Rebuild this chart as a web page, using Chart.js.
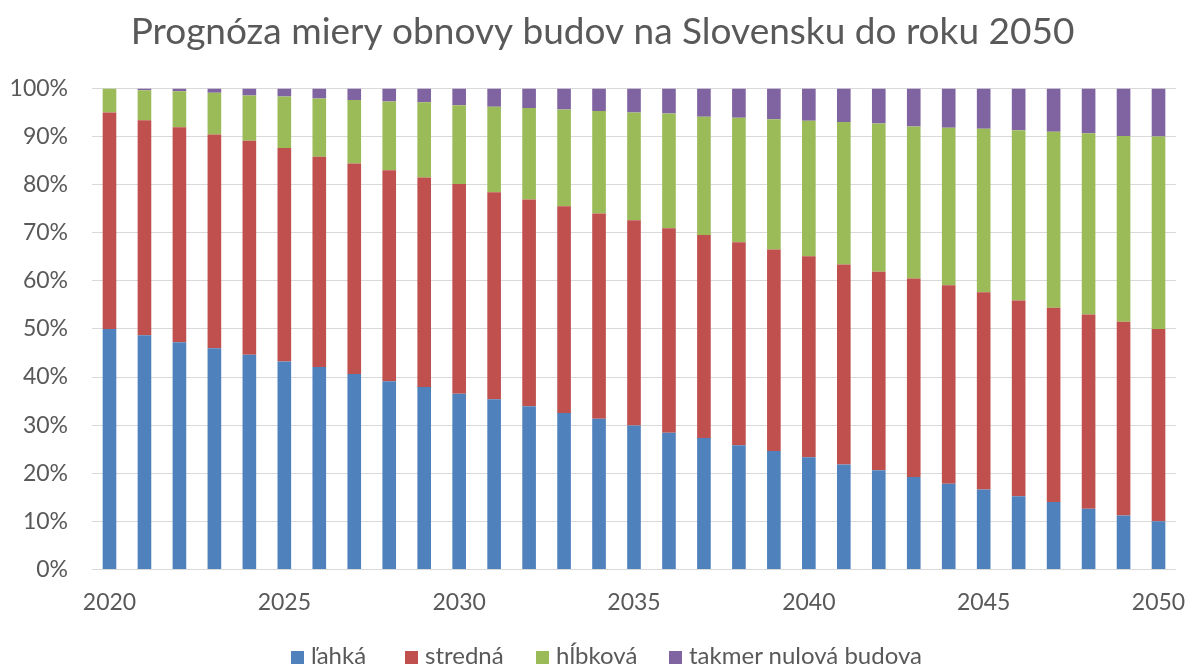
<!DOCTYPE html>
<html>
<head>
<meta charset="utf-8">
<script src="https://cdn.jsdelivr.net/npm/chart.js@4.4.1/dist/chart.umd.min.js"></script>
<style>
  html, body { margin: 0; padding: 0; background: #fff; }
  #wrap { position: relative; width: 1189px; height: 665px; overflow: hidden; }
  #c { display: block; }
  #legend { position: absolute; left: 0; top: 0; width: 1189px; height: 665px; pointer-events: none; }
  .item { position: absolute; top: 641px; display: flex; align-items: center; font-family: Lato, sans-serif; font-size: 24px; color: #595959; line-height: 28px; white-space: nowrap; }
  .sw { width: 13px; height: 13px; margin-right: 7px; position: relative; top: 2px; }
</style>
</head>
<body>
<div id="wrap">
  <canvas id="c" width="1189" height="665"></canvas>
  <div id="legend"></div>
</div>
<script>
const title = "Prognóza miery obnovy budov na Slovensku do roku 2050";
const years = ["2020","2021","2022","2023","2024","2025","2026","2027","2028","2029","2030",
  "2031","2032","2033","2034","2035","2036","2037","2038","2039","2040",
  "2041","2042","2043","2044","2045","2046","2047","2048","2049","2050"];
const seriesNames = ["ľahká", "stredná", "hĺbková", "takmer nulová budova"];
const lahka = [50.0,48.7,47.2,46.0,44.6,43.2,42.1,40.6,39.1,37.9,36.5,
  35.4,33.9,32.5,31.3,29.9,28.4,27.3,25.8,24.6,23.3,
  21.8,20.6,19.2,17.8,16.6,15.2,14.0,12.6,11.2,10.0];
const stredna = [45.0,44.7,44.7,44.4,44.5,44.4,43.7,43.8,43.9,43.6,43.6,
  43.0,43.0,43.0,42.7,42.7,42.5,42.2,42.2,41.9,41.8,
  41.6,41.3,41.3,41.3,41.0,40.7,40.4,40.4,40.3,40.0];
const hlbkova = [5.0,6.2,7.5,8.7,9.4,10.7,12.1,13.2,14.3,15.6,16.4,
  17.8,19.0,20.1,21.3,22.4,23.9,24.6,25.9,27.1,28.2,
  29.6,30.8,31.6,32.7,34.0,35.4,36.6,37.7,38.6,40.0];
const takmerNulova = [0.0,0.4,0.6,0.9,1.5,1.7,2.1,2.4,2.7,2.9,3.5,
  3.8,4.1,4.4,4.7,5.0,5.2,5.9,6.1,6.4,6.7,
  7.0,7.3,7.9,8.2,8.4,8.7,9.0,9.3,9.9,10.0];
const yTicks = [0,10,20,30,40,50,60,70,80,90,100];

const colors = ["#4F81BD", "#C0504D", "#9BBB59", "#8064A2"];
const values = [lahka, stredna, hlbkova, takmerNulova];

const datasets = seriesNames.map((n, i) => ({
  label: n,
  data: values[i],
  backgroundColor: colors[i],
  borderWidth: 0,
  barPercentage: 0.39,
  categoryPercentage: 1.0
}));

const FONT = "Lato, sans-serif";
const TXT = "#595959";

const titleShift = {
  id: "titleShift",
  afterLayout(chart) {
    if (chart.titleBlock) { chart.titleBlock.left = 29; }
  }
};

new Chart(document.getElementById("c"), {
  type: "bar",
  data: { labels: years, datasets },
  plugins: [titleShift],
  options: {
    responsive: false,
    animation: false,
    devicePixelRatio: 1,
    layout: { padding: { left: 0, right: 13, top: 0, bottom: 30 } },
    plugins: {
      legend: { display: false },
      tooltip: { enabled: false },
      title: {
        display: true,
        text: title,
        color: TXT,
        font: { family: FONT, size: 37, weight: "normal" },
        padding: { top: 10, bottom: 34 }
      }
    },
    scales: {
      x: {
        stacked: true,
        afterFit: (s) => { s.paddingLeft = 0; s.paddingRight = 0; },
        grid: { display: false, drawTicks: false },
        border: { display: false },
        ticks: {
          color: TXT,
          font: { family: FONT, size: 23 },
          padding: 19,
          autoSkip: false,
          maxRotation: 0,
          callback: function (v, i) { return i % 5 === 0 ? this.getLabelForValue(v) : ""; }
        }
      },
      y: {
        stacked: true,
        min: 0, max: 100,
        afterFit: (s) => { s.width = 92; },
        afterBuildTicks: (s) => { s.ticks = yTicks.map(v => ({ value: v })); },
        grid: { color: "#d9d9d9", lineWidth: 1, drawTicks: false },
        border: { display: false },
        ticks: {
          color: TXT,
          font: { family: FONT, size: 23 },
          padding: 24,
          callback: (v) => v + "%"
        }
      }
    }
  }
});

const legendLefts = [291, 405, 536, 669];
const leg = document.getElementById("legend");
seriesNames.forEach((n, i) => {
  const it = document.createElement("div");
  it.className = "item";
  it.style.left = legendLefts[i] + "px";
  const sw = document.createElement("span");
  sw.className = "sw";
  sw.style.background = colors[i];
  const t = document.createElement("span");
  t.textContent = n;
  it.appendChild(sw); it.appendChild(t);
  leg.appendChild(it);
});
</script>
</body>
</html>
